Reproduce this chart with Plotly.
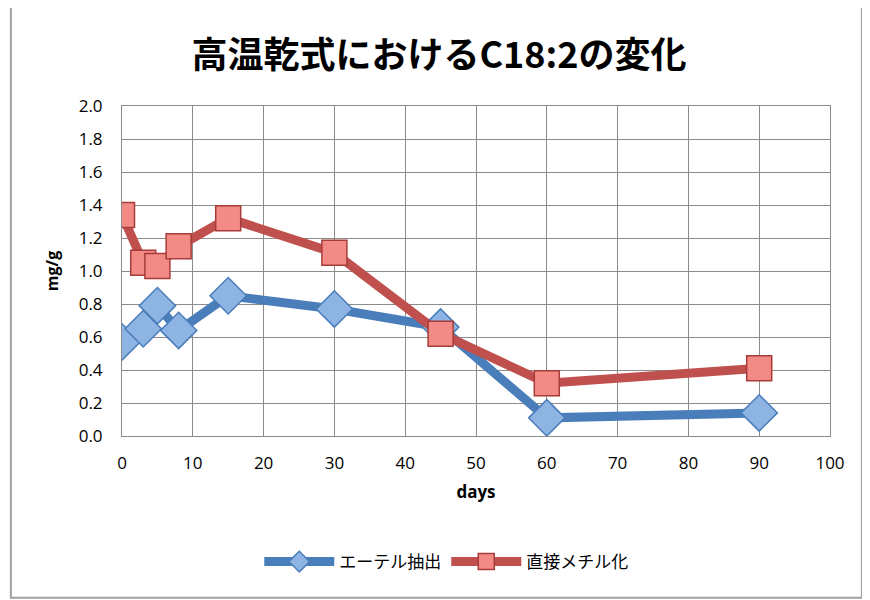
import plotly.graph_objects as go

days = [0, 3, 5, 8, 15, 30, 45, 60, 90]
ether = [0.57, 0.65, 0.79, 0.64, 0.85, 0.77, 0.66, 0.11, 0.14]
direct = [1.34, 1.05, 1.03, 1.15, 1.32, 1.11, 0.62, 0.32, 0.41]

x_ticks = list(range(0, 101, 10))
y_ticks = [round(i * 0.2, 1) for i in range(11)]

jp_font = "Noto Sans CJK JP"
tick_font = "Open Sans"

fig = go.Figure()

fig.add_trace(go.Scatter(
    x=days, y=ether, name="エーテル抽出", mode="lines+markers",
    line=dict(color="#4a7ebb", width=9),
    marker=dict(symbol="diamond", size=28, color="#8db4e2",
                line=dict(color="#4a7ebb", width=1.5)),
))
fig.add_trace(go.Scatter(
    x=days, y=direct, name="直接メチル化", mode="lines+markers",
    line=dict(color="#c0504d", width=9),
    marker=dict(symbol="square", size=25, color="#f28a86",
                line=dict(color="#a83c39", width=1.5)),
))

# the page has an 8px body margin, so the figure is a bit smaller than the window
fig.update_layout(
    width=862, height=592,
    margin=dict(l=114, r=40, t=98, b=164),
    paper_bgcolor="white", plot_bgcolor="white",
    title=dict(text="<b>高温乾式におけるC18:2の変化</b>", x=0.5, xanchor="center",
               y=0.92, yanchor="middle",
               font=dict(family=jp_font, size=36, color="black")),
    xaxis=dict(range=[0, 100], tickvals=x_ticks, showgrid=True, gridcolor="#8c8c8c",
               gridwidth=1, showline=True, linecolor="#8c8c8c", mirror=True,
               zeroline=False, ticks="outside", ticklen=12, tickcolor="rgba(0,0,0,0)",
               tickfont=dict(family=tick_font, size=17, color="black"),
               title=dict(text="<b>days</b>", font=dict(family=tick_font, size=17, color="black"),
                          standoff=12)),
    yaxis=dict(range=[0, 2.0], tickvals=y_ticks, tickformat=".1f", showgrid=True,
               gridcolor="#8c8c8c", gridwidth=1, showline=True, linecolor="#8c8c8c",
               mirror=True, zeroline=False, ticks="outside", ticklen=15,
               tickcolor="rgba(0,0,0,0)",
               tickfont=dict(family=tick_font, size=17, color="black"),
               title=dict(text="<b>mg/g</b>", font=dict(family=tick_font, size=16, color="black"),
                          standoff=16)),
    legend=dict(orientation="h", x=0.458, xanchor="center", y=-0.382, yanchor="middle",
                font=dict(family=jp_font, size=17, color="black"), itemwidth=70),
    showlegend=True,
)

# outer chart border
fig.add_shape(type="rect", xref="paper", yref="paper",
              x0=-0.157, x1=1.045, y0=-0.49, y1=1.303,
              line=dict(color="#a0a0a0", width=2), fillcolor="rgba(0,0,0,0)")

fig.write_html("out.html")
